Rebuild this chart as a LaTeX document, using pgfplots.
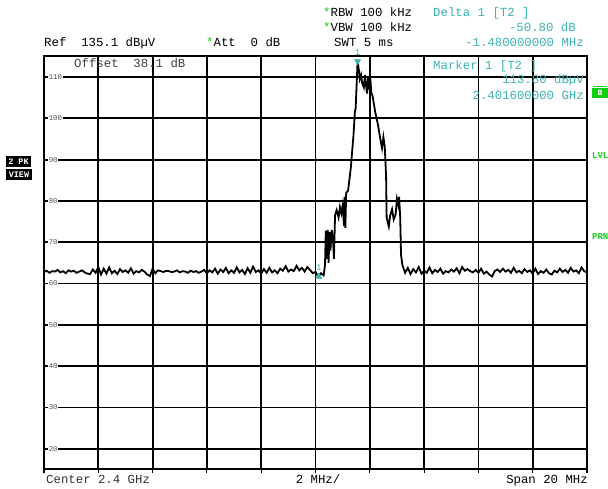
\documentclass[border=0pt]{standalone}
\usepackage{pgfplots}
\pgfplotsset{compat=1.18}
\usepackage{pgfplotstable}
\usepackage{fontspec}
\setmainfont{Liberation Mono}
\definecolor{rsteal}{RGB}{60,178,178}
\definecolor{rsgreen}{RGB}{20,205,20}
\definecolor{ticktxt}{RGB}{80,80,80}

\pgfplotstableread{
f L
2390.0 62.8
2390.1 63.1
2390.2 62.6
2390.3 63.0
2390.4 62.9
2390.5 63.3
2390.6 62.7
2390.7 63.0
2390.8 62.5
2390.9 63.2
2391.0 62.9
2391.1 63.1
2391.2 62.6
2391.3 62.9
2391.4 63.2
2391.5 62.7
2391.6 62.4
2391.7 62.3
2391.8 63.4
2391.9 62.6
2392.0 64.0
2392.1 62.2
2392.2 63.6
2392.3 62.4
2392.4 63.9
2392.5 62.5
2392.6 63.1
2392.7 62.3
2392.8 63.5
2392.9 62.8
2393.0 63.2
2393.1 62.6
2393.2 63.7
2393.3 62.4
2393.4 63.0
2393.5 62.7
2393.6 63.3
2393.7 62.9
2393.8 62.2
2393.9 61.8
2394.0 63.6
2394.1 62.5
2394.2 63.2
2394.3 63.0
2394.4 62.8
2394.5 63.1
2394.6 63.0
2394.7 62.8
2394.8 62.9
2394.9 63.2
2395.0 62.7
2395.1 63.0
2395.2 62.9
2395.3 62.6
2395.4 63.1
2395.5 62.8
2395.6 63.0
2395.7 62.6
2395.8 62.9
2395.9 63.3
2396.0 62.5
2396.1 63.2
2396.2 62.7
2396.3 63.6
2396.4 62.4
2396.5 63.4
2396.6 62.8
2396.7 63.8
2396.8 62.5
2396.9 63.2
2397.0 62.6
2397.1 63.9
2397.2 62.7
2397.3 63.3
2397.4 62.3
2397.5 63.7
2397.6 62.6
2397.7 64.1
2397.8 62.8
2397.9 63.2
2398.0 62.4
2398.1 63.5
2398.2 62.6
2398.3 63.8
2398.4 62.7
2398.5 63.2
2398.6 62.5
2398.7 63.6
2398.8 63.1
2398.9 64.2
2399.0 62.9
2399.1 63.4
2399.2 63.0
2399.3 64.3
2399.4 63.2
2399.5 63.8
2399.6 62.9
2399.7 64.0
2399.8 63.3
2399.9 62.5
2400.0 62.8
2400.1 61.7
2400.2 62.5
2400.3 62.0
2400.35 64.5
2400.38 72.8
2400.42 66.0
2400.45 73.0
2400.48 65.0
2400.52 72.5
2400.55 68.0
2400.60 73.0
2400.65 70.0
2400.68 66.0
2400.72 76.5
2400.78 77.8
2400.85 76.0
2400.90 78.5
2400.95 77.0
2401.00 79.0
2401.05 74.0
2401.08 81.0
2401.10 73.5
2401.13 82.0
2401.20 82.5
2401.30 88.0
2401.40 96.0
2401.45 101.5
2401.48 102.5
2401.52 109.0
2401.55 113.8
2401.60 111.5
2401.63 109.5
2401.68 110.5
2401.72 108.5
2401.78 107.5
2401.82 110.5
2401.86 108.0
2401.90 106.0
2401.94 110.2
2401.98 107.0
2402.02 109.5
2402.06 106.0
2402.10 105.5
2402.20 101.5
2402.30 98.5
2402.40 94.5
2402.45 92.8
2402.50 95.5
2402.55 93.2
2402.60 86.0
2402.62 76.0
2402.70 73.8
2402.75 76.5
2402.82 78.0
2402.88 75.5
2402.95 76.7
2403.00 80.5
2403.05 79.0
2403.08 81.0
2403.12 76.0
2403.15 67.0
2403.20 64.5
2403.30 62.6
2403.4 63.8
2403.5 62.3
2403.6 63.5
2403.7 62.7
2403.8 64.0
2403.9 62.4
2404.0 63.1
2404.1 62.6
2404.2 63.9
2404.3 62.5
2404.4 63.3
2404.5 62.8
2404.6 63.6
2404.7 62.4
2404.8 63.0
2404.9 62.7
2405.0 63.4
2405.1 62.9
2405.2 63.7
2405.3 62.5
2405.4 64.0
2405.5 63.1
2405.6 63.5
2405.7 63.0
2405.8 62.7
2405.9 63.3
2406.0 62.6
2406.1 63.6
2406.2 62.4
2406.3 62.9
2406.4 62.2
2406.5 61.7
2406.6 63.0
2406.7 63.4
2406.8 62.8
2406.9 63.6
2407.0 62.9
2407.1 63.3
2407.2 62.6
2407.3 63.8
2407.4 62.7
2407.5 63.1
2407.6 62.5
2407.7 63.5
2407.8 62.8
2407.9 63.2
2408.0 62.4
2408.1 63.6
2408.2 62.3
2408.3 63.0
2408.4 62.6
2408.5 63.4
2408.6 62.5
2408.7 62.2
2408.8 63.1
2408.9 62.7
2409.0 63.6
2409.1 62.8
2409.2 63.3
2409.3 62.6
2409.4 63.8
2409.5 62.9
2409.6 63.2
2409.7 62.5
2409.8 63.9
2409.9 63.0
2410.0 62.7
}\trace

\begin{document}
\begin{tikzpicture}
\useasboundingbox (0,0) rectangle (608bp,489bp);
\begin{axis}[
  at={(44bp,20bp)}, anchor=south west,
  scale only axis, width=543bp, height=413bp,
  xmin=2390, xmax=2410, ymin=15.1, ymax=115.1,
  xtick={2390,2392,...,2410}, xticklabels={},
  ytick={20,30,...,110},
  xtick pos=bottom, ytick pos=left,
  tick align=outside, major tick length=4bp,
  xtick style={black, line width=1.2bp},
  ytick style={draw=none},
  grid=major,
  major grid style={black, line width=1.8bp},
  axis line style={black, line width=2.2bp},
  /pgf/number format/assume math mode=true,
  yticklabel style={anchor=west, xshift=8bp, fill=white, inner sep=0.6bp,
    font=\fontsize{7.4}{8}\selectfont, text=ticktxt},
  clip=false,
]
\addplot[black, line width=1.8bp] table[x=f, y=L] {\trace};
\addplot[only marks, mark=triangle*, mark size=3.6bp,
  mark options={rotate=180, fill=rsteal, draw=rsteal}]
  coordinates {(2401.55,113.8)} node[pos=0, above=2bp, text=rsteal, font=\fontsize{9}{9}\selectfont] {1};
\addplot[only marks, mark=triangle*, mark size=3.6bp,
  mark options={fill=rsteal, draw=rsteal}]
  coordinates {(2400.12,61.7)} node[pos=0, above=3bp, text=rsteal, font=\fontsize{9}{9}\selectfont] {1};
\end{axis}

\tikzset{hdr/.style={inner sep=0pt, font=\fontsize{12.4}{13}\selectfont}}
% header
\node[hdr, anchor=base west] at (323bp,472.5bp) {\textcolor{rsgreen}{*}RBW 100 kHz};
\node[hdr, anchor=base west] at (323bp,457.5bp) {\textcolor{rsgreen}{*}VBW 100 kHz};
\node[hdr, anchor=base west] at (44bp,442.5bp) {Ref~~135.1 dBµV};
\node[hdr, anchor=base west] at (206bp,442.5bp) {\textcolor{rsgreen}{*}Att~~0 dB};
\node[hdr, anchor=base west] at (334bp,442.5bp) {SWT 5 ms};
\node[hdr, anchor=base west, text=rsteal] at (433bp,472.5bp) {Delta 1 [T2 ]};
\node[hdr, anchor=base east, text=rsteal] at (576bp,457.5bp) {-50.80 dB};
\node[hdr, anchor=base east, text=rsteal] at (584bp,442.5bp) {-1.480000000 MHz};
% inside
\node[hdr, anchor=base west, text=black!75] at (74bp,421.5bp) {Offset~~38.1 dB};
\node[hdr, anchor=base west, text=rsteal] at (433bp,419.5bp) {Marker 1 [T2 ]};
\node[hdr, anchor=base east, text=rsteal] at (584bp,405bp) {113.80 dBµV};
\node[hdr, anchor=base east, text=rsteal] at (584bp,389.5bp) {2.401600000 GHz};
% bottom
\node[hdr, anchor=base west, text=black!80] at (46bp,5.5bp) {Center 2.4 GHz};
\node[hdr, anchor=base] at (318bp,5.5bp) {2 MHz/};
\node[hdr, anchor=base east] at (588bp,5.5bp) {Span 20 MHz};
% left boxes
\fill[black] (6bp,322bp) rectangle (31bp,333bp);
\fill[black] (6bp,309bp) rectangle (32bp,320bp);
\node[anchor=center, inner sep=0pt, text=white, font=\fontsize{8.5}{9}\bfseries\selectfont] at (18.5bp,327.5bp) {2 PK};
\node[anchor=center, inner sep=0pt, text=white, font=\fontsize{8.5}{9}\bfseries\selectfont] at (19bp,314.5bp) {VIEW};
% right side
\fill[rsgreen] (592bp,391bp) rectangle (608bp,401bp);
\draw[rsgreen, line width=0.8bp] (593bp,402.5bp) -- (607bp,402.5bp);
\node[anchor=center, inner sep=0pt, text=white, font=\fontsize{8}{8}\bfseries\selectfont] at (600bp,396bp) {B};
\node[anchor=base west, inner sep=0pt, text=rsgreen, font=\fontsize{9}{9}\bfseries\selectfont] at (592bp,330bp) {LVL};
\node[anchor=base west, inner sep=0pt, text=rsgreen, font=\fontsize{9}{9}\bfseries\selectfont] at (592bp,249bp) {PRN};
\end{tikzpicture}
\end{document}
